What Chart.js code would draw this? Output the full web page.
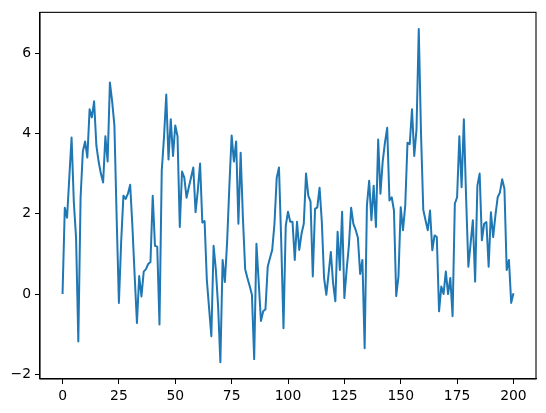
<!DOCTYPE html>
<html>
<head>
<meta charset="utf-8">
<script src="https://cdn.jsdelivr.net/npm/chart.js@4/dist/chart.umd.min.js"></script>
<style>
  html, body { margin: 0; padding: 0; background: #fff; }
  canvas { display: block; }
</style>
</head>
<body>
<canvas id="lineChart" width="546" height="413"></canvas>
<script>
// values, one per step 0..200
const values = [
    0, 2.15, 1.9, 2.9, 3.9, 2.3, 1.4, -1.18, 2.4, 3.55,
    3.8, 3.4, 4.6, 4.4, 4.8, 3.7, 3.3, 3.0, 2.78, 3.93,
    3.3, 5.27, 4.8, 4.2, 1.9, -0.22, 1.3, 2.45, 2.37, 2.5,
    2.72, 1.67, 0.44, -0.72, 0.45, -0.06, 0.56, 0.62, 0.75, 0.8,
    2.45, 1.2, 1.18, -0.76, 3.07, 3.9, 4.97, 3.35, 4.35, 3.44,
    4.2, 3.93, 1.67, 3.05, 2.9, 2.4, 2.66, 2.9, 3.15, 2.04,
    2.58, 3.25, 1.78, 1.82, 0.35, -0.35, -1.05, 1.2, 0.6, -0.3,
    -1.7, 0.85, 0.3, 1.3, 2.7, 3.95, 3.3, 3.8, 1.75, 3.52,
    1.9, 0.62, 0.4, 0.2, -0.02, -1.62, 1.25, 0.3, -0.67, -0.43,
    -0.38, 0.68, 0.9, 1.1, 1.75, 2.9, 3.15, 1.3, -0.85, 1.7,
    2.05, 1.8, 1.8, 0.85, 1.8, 1.1, 1.5, 1.75, 3.0, 2.45,
    2.3, 0.44, 2.12, 2.16, 2.65, 1.8, 0.4, -0.02, 0.5, 1.05,
    0.27, -0.18, 1.55, 0.6, 2.05, -0.1, 0.6, 1.2, 2.15, 1.75,
    1.6, 1.4, 0.5, 0.85, -1.35, 2.2, 2.82, 1.84, 2.7, 1.67,
    3.85, 2.5, 3.3, 3.77, 4.14, 2.33, 2.41, 2.08, -0.05, 0.44,
    2.16, 1.59, 2.2, 3.77, 3.73, 4.6, 3.44, 4.1, 6.6, 4.0,
    2.1, 1.84, 1.59, 2.08, 1.09, 1.46, 1.42, -0.43, 0.19, 0.0,
    0.56, 0.0, 0.4, -0.55, 2.25, 2.41, 3.93, 2.66, 4.35, 2.4,
    0.68, 1.26, 1.84, 0.31, 2.7, 3.0, 1.34, 1.75, 1.79, 0.68,
    2.04, 1.42, 1.96, 2.41, 2.53, 2.86, 2.62, 0.6, 0.85, -0.22,
    0.02
];
const steps = values.map((v, i) => i);
const xTicks = [0, 25, 50, 75, 100, 125, 150, 175, 200];
const yTicks = [-2, 0, 2, 4, 6];

// matplotlib-like 5% margins
let xPad = (steps[steps.length - 1] - steps[0]) * 0.05;
let yMin = Math.min(...values), yMax = Math.max(...values);
let yPad = (yMax - yMin) * 0.05;

let fmt = function (v) {
    return String(v).replace('-', '\u2212');
};

let framePlugin = {
    id: 'frame',
    afterDraw(chart) {
        let a = chart.chartArea, c = chart.ctx;
        c.save();
        c.strokeStyle = '#000';
        c.lineWidth = 1.1;
        c.strokeRect(a.left, a.top, a.right - a.left, a.bottom - a.top);
        c.restore();
    }
};

let tickFont = { family: 'DejaVu Sans', size: 13.9 };

let lineChartDraw = function () {
    let painter = document.getElementById('lineChart').getContext('2d');
    window.lineChart = new Chart(painter, {
        type: 'line',
        data: {
            datasets: [{
                data: steps.map((x, i) => ({ x: x, y: values[i] })),
                borderColor: '#1f77b4',
                borderWidth: 2,
                pointRadius: 0,
                tension: 0,
                borderJoinStyle: 'round',
                fill: false
            }]
        },
        options: {
            responsive: false,
            animation: false,
            devicePixelRatio: 1,
            layout: { padding: { top: 9, right: 10, left: 0, bottom: 0 } },
            scales: {
                x: {
                    type: 'linear',
                    min: steps[0] - xPad,
                    max: steps[steps.length - 1] + xPad,
                    afterFit: s => { s.height = 34; },
                    afterBuildTicks: s => { s.ticks = xTicks.map(v => ({ value: v })); },
                    grid: { drawOnChartArea: false, tickLength: 5, color: '#000', lineWidth: 1 },
                    border: { display: true, color: '#000', width: 1.1 },
                    ticks: { color: '#000', font: tickFont, padding: 4, maxRotation: 0, callback: fmt }
                },
                y: {
                    type: 'linear',
                    min: yMin - yPad,
                    max: yMax + yPad,
                    afterFit: s => { s.width = 40; },
                    afterBuildTicks: s => { s.ticks = yTicks.map(v => ({ value: v })); },
                    grid: { drawOnChartArea: false, tickLength: 5, color: '#000', lineWidth: 1 },
                    border: { display: true, color: '#000', width: 1.1 },
                    ticks: { color: '#000', font: tickFont, padding: 4, callback: fmt }
                }
            },
            plugins: {
                legend: { display: false },
                tooltip: { enabled: false }
            }
        },
        plugins: [framePlugin]
    });
};

window.onload = function () {
    lineChartDraw();
};
</script>
</body>
</html>
